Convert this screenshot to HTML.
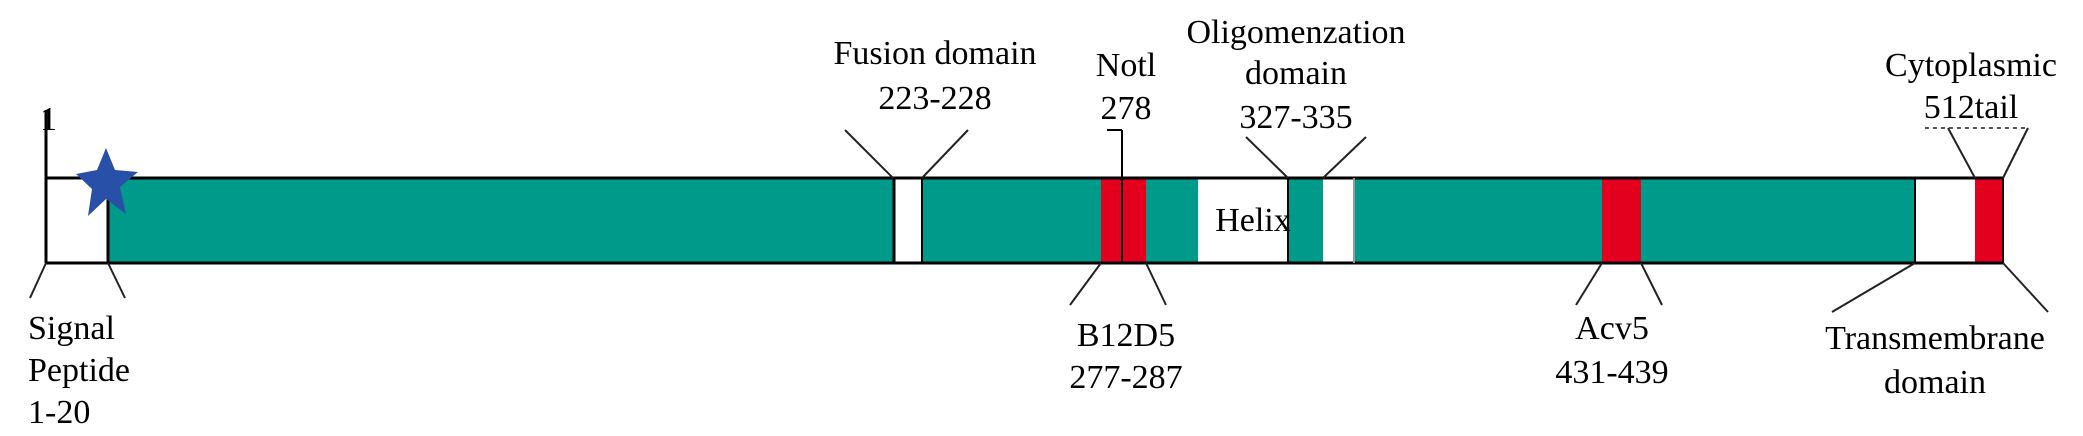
<!DOCTYPE html>
<html><head><meta charset="utf-8"><style>
html,body{margin:0;padding:0;background:#fff;}
svg{display:block;}
text{font-family:"Liberation Serif",serif;font-size:34px;fill:#000;}
</style></head><body>
<svg width="2083" height="436" viewBox="0 0 2083 436" xmlns="http://www.w3.org/2000/svg">
<g stroke="none">
<rect x="46" y="178" width="1957" height="85" fill="#fff"/>
<rect x="108" y="178" width="786" height="85" fill="#009a8a"/>
<rect x="922" y="178" width="179" height="85" fill="#009a8a"/>
<rect x="1101" y="178" width="45" height="85" fill="#e3001f"/>
<rect x="1146" y="178" width="52" height="85" fill="#009a8a"/>
<rect x="1288" y="178" width="35" height="85" fill="#009a8a"/>
<rect x="1354" y="178" width="248" height="85" fill="#009a8a"/>
<rect x="1602" y="178" width="39" height="85" fill="#e3001f"/>
<rect x="1641" y="178" width="274" height="85" fill="#009a8a"/>
<rect x="1975" y="178" width="28" height="85" fill="#e3001f"/>
</g>
<g stroke="#000" stroke-width="3" fill="none">
<line x1="46" y1="178" x2="2003" y2="178"/>
<line x1="46" y1="263" x2="2003" y2="263"/>
<line x1="46" y1="110" x2="46" y2="263"/>
<line x1="108" y1="178" x2="108" y2="263"/>
<line x1="894" y1="178" x2="894" y2="263"/>
<line x1="922" y1="178" x2="922" y2="263" stroke-width="2"/>
<line x1="1122" y1="130" x2="1122" y2="263" stroke-width="2"/>
<line x1="1107" y1="130" x2="1122" y2="130" stroke-width="2"/>
<line x1="1288" y1="178" x2="1288" y2="263" stroke-width="2"/>
<line x1="1354" y1="178" x2="1354" y2="263" stroke="#999" stroke-width="2"/>
<line x1="1915" y1="178" x2="1915" y2="263" stroke-width="2"/>
<line x1="2003" y1="178" x2="2003" y2="263" stroke-width="2"/>
</g>
<g stroke="#222" stroke-width="2" fill="none">
<line x1="46" y1="263" x2="30" y2="298"/>
<line x1="108" y1="263" x2="125" y2="298"/>
<line x1="845" y1="130" x2="893" y2="178"/>
<line x1="968" y1="130" x2="922" y2="178"/>
<line x1="1246" y1="137" x2="1288" y2="178"/>
<line x1="1366" y1="137" x2="1323" y2="178"/>
<line x1="1948" y1="128" x2="1975" y2="178"/>
<line x1="2028" y1="128" x2="2003" y2="178"/>
<line x1="1925" y1="128" x2="2028" y2="128" stroke-dasharray="4,4" stroke="#555"/>
<line x1="1101" y1="263" x2="1070" y2="305"/>
<line x1="1146" y1="263" x2="1166" y2="305"/>
<line x1="1602" y1="263" x2="1576" y2="305"/>
<line x1="1641" y1="263" x2="1662" y2="305"/>
<line x1="1915" y1="263" x2="1832" y2="312"/>
<line x1="2003" y1="263" x2="2048" y2="312"/>
</g>
<polygon fill="#2850a8" points="106,148 115,170 138,172 120,187 126,214 106,199 88,216 92,189 76,174 97,170"/>
<text x="40" y="130" font-size="30">1</text>
<text x="1253" y="231" text-anchor="middle">Helix</text>
<g text-anchor="middle">
<text x="935" y="64">Fusion domain</text>
<text x="935" y="109">223-228</text>
<text x="1126" y="76">Notl</text>
<text x="1126" y="119">278</text>
<text x="1296" y="43">Oligomenzation</text>
<text x="1296" y="84">domain</text>
<text x="1296" y="128">327-335</text>
<text x="1971" y="76">Cytoplasmic</text>
<text x="1971" y="118">512tail</text>
<text x="1126" y="346">B12D5</text>
<text x="1126" y="388">277-287</text>
<text x="1612" y="339">Acv5</text>
<text x="1612" y="383">431-439</text>
<text x="1935" y="349">Transmembrane</text>
<text x="1935" y="393">domain</text>
</g>
<text x="28" y="339">Signal</text>
<text x="28" y="381">Peptide</text>
<text x="28" y="423">1-20</text>
</svg>
</body></html>
